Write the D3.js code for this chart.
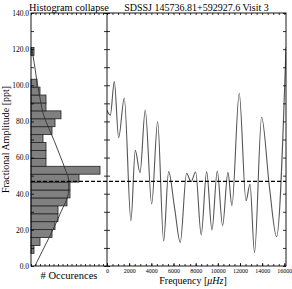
<!DOCTYPE html>
<html>
<head>
<meta charset="utf-8">
<script src="https://cdn.jsdelivr.net/npm/d3@7"></script>
<style>
  body { margin: 0; background: #fff; }
  svg text { font-family: "Liberation Serif", "Times New Roman", serif; fill: #000; }
</style>
</head>
<body>
<svg width="292" height="289"></svg>
<script>
// histogram of amplitudes (bins from the bottom up)
binStart = 7.0;
binWidth = 4.38;
binCounts = [1, 3, 7, 8, 9, 9, 12, 13, 13, 16, 23, 5, 5, 5, 4, 7, 8, 10, 5, 5, 3, 2, 0, 0, 0, 1];

// normal curve drawn over the histogram
curveAmp   = [0, 10, 20, 30, 40, 47, 54, 61, 69, 76, 84, 92, 103, 112, 121];
curveCount = [1.3, 4.3, 7.3, 10.0, 12.4, 12.6, 11.3, 9.7, 7.8, 6.0, 4.1, 3.1, 1.9, 1.1, 0.2];

// amplitude spectrum
freq = [0, 300, 660, 1050, 1560, 2160, 2550, 2980, 3450, 4030, 4570, 5110, 5560, 6100, 6610,
        7180, 7580, 8000, 8500, 8990, 9470, 9950, 10430, 10910, 11270, 11930, 12540, 12900,
        13310, 13950, 14650, 15300, 16150];
amp  = [86, 83.5, 102, 71, 93, 25, 64, 51.6, 86.3, 34.3, 80, 13.8, 52.2, 32, 13.1,
        51.3, 46.7, 52, 17.2, 52.2, 19.9, 52.6, 22.3, 51.8, 33.4, 95.6, 36.1, 45.2,
        7.4, 82.3, 44, 16.2, 121];

meanLevel = 46.8;
yTicks = d3.range(0, 141, 10);
freqTicks = d3.range(0, 16001, 2000);

var top_ = 13, bottom = 266, left = 31, mid = 107, right = 286;

var svg = d3.select("svg");

var y = d3.scaleLinear().domain([0, 140]).range([bottom, top_]);
var count = d3.scaleLinear().domain([0, (mid - left) / 3]).range([left, mid]);
var x = d3.scaleLinear().domain([0, 16150]).range([mid, right]);

svg.append("defs").append("clipPath").attr("id", "rclip")
  .append("rect").attr("x", mid).attr("y", top_).attr("width", right - mid).attr("height", bottom - top_);
svg.append("defs").append("clipPath").attr("id", "lclip")
  .append("rect").attr("x", left).attr("y", top_).attr("width", mid - left).attr("height", bottom - top_);

// histogram bars
var bins = binCounts.map((c, i) => ({lo: binStart + i * binWidth, hi: binStart + (i + 1) * binWidth, c: c}))
  .filter(b => b.c > 0);

svg.append("g").selectAll("rect")
  .data(bins)
  .enter()
  .append("rect")
  .attr("x", count(0))
  .attr("y", d => y(d.hi))
  .attr("width", d => count(d.c) - count(0))
  .attr("height", d => y(d.lo) - y(d.hi))
  .attr("fill", "#808080")
  .attr("stroke", "#222")
  .attr("stroke-width", 0.8);

// normal curve
var gauss = curveAmp.map((a, i) => [a, curveCount[i]]);
svg.append("path")
  .attr("clip-path", "url(#lclip)")
  .attr("d", d3.line().x(d => count(d[1])).y(d => y(d[0])).curve(d3.curveMonotoneY)(gauss))
  .attr("fill", "none")
  .attr("stroke", "#333")
  .attr("stroke-width", 0.9);

// spectrum line
var spec = freq.map((f, i) => [f, amp[i]]);
svg.append("path")
  .attr("clip-path", "url(#rclip)")
  .attr("d", d3.line().x(d => x(d[0])).y(d => y(d[1])).curve(d3.curveMonotoneX)(spec))
  .attr("fill", "none")
  .attr("stroke", "#555")
  .attr("stroke-width", 1.1);

// mean level
svg.append("line")
  .attr("x1", left).attr("x2", right)
  .attr("y1", y(meanLevel)).attr("y2", y(meanLevel))
  .attr("stroke", "#000")
  .attr("stroke-width", 1.2)
  .attr("stroke-dasharray", "4,2");

// axes
var fmt = d3.format(".1f");
function clean(g) {
  g.select(".domain").remove();
  g.selectAll(".tick line").attr("stroke", "#000").attr("stroke-width", 0.8);
}

svg.append("g")
  .attr("transform", "translate(" + left + ",0)")
  .call(d3.axisLeft(y).tickValues(yTicks).tickSize(-3).tickPadding(2)
    .tickFormat(d => d % 20 === 0 ? fmt(d) : ""))
  .call(clean)
  .selectAll("text").attr("font-size", "7.5px");

// ticks on both sides of the middle spine
svg.append("g")
  .attr("transform", "translate(" + mid + ",0)")
  .call(d3.axisLeft(y).tickValues(yTicks).tickSize(3).tickFormat(""))
  .call(clean);
svg.append("g")
  .attr("transform", "translate(" + mid + ",0)")
  .call(d3.axisRight(y).tickValues(yTicks).tickSize(3).tickFormat(""))
  .call(clean);
svg.append("g")
  .attr("transform", "translate(" + right + ",0)")
  .call(d3.axisLeft(y).tickValues(yTicks).tickSize(3).tickFormat(""))
  .call(clean);

// left panel bottom/top minor ticks
var countTicks = d3.range(0, 25.3, 1.5);
svg.append("g")
  .attr("transform", "translate(0," + bottom + ")")
  .call(d3.axisBottom(count).tickValues(countTicks).tickSize(-2).tickFormat(""))
  .call(clean);
svg.append("g")
  .attr("transform", "translate(0," + top_ + ")")
  .call(d3.axisTop(count).tickValues(countTicks).tickSize(-2).tickFormat(""))
  .call(clean);

// right panel frequency axis
svg.append("g")
  .attr("transform", "translate(0," + bottom + ")")
  .call(d3.axisBottom(x).tickValues(d3.range(0, 16001, 500)).tickSize(-2).tickFormat(""))
  .call(clean);
svg.append("g")
  .attr("transform", "translate(0," + bottom + ")")
  .call(d3.axisBottom(x).tickValues(freqTicks).tickSize(-3).tickPadding(2.5).tickFormat(d3.format("d")))
  .call(clean)
  .selectAll("text").attr("font-size", "6px");
svg.append("g")
  .attr("transform", "translate(0," + top_ + ")")
  .call(d3.axisTop(x).tickValues(d3.range(0, 16001, 500)).tickSize(-2).tickFormat(""))
  .call(clean);

// spines
svg.append("rect")
  .attr("x", left).attr("y", top_).attr("width", right - left).attr("height", bottom - top_)
  .attr("fill", "none").attr("stroke", "#000").attr("stroke-width", 0.9);
svg.append("line")
  .attr("x1", mid).attr("x2", mid).attr("y1", top_).attr("y2", bottom)
  .attr("stroke", "#000").attr("stroke-width", 0.9);

// titles and labels
svg.append("text").attr("x", (left + mid) / 2).attr("y", 10.5)
  .attr("text-anchor", "middle").attr("font-size", "10.3px").text("Histogram collapse");
svg.append("text").attr("x", (mid + right) / 2).attr("y", 10.5)
  .attr("text-anchor", "middle").attr("font-size", "10px").text("SDSSJ 145736.81+592927.6 Visit 3");
svg.append("text").attr("x", (left + mid) / 2).attr("y", 278.5)
  .attr("text-anchor", "middle").attr("font-size", "10.5px").text("# Occurences");

var fl = svg.append("text").attr("x", 193).attr("y", 284)
  .attr("text-anchor", "middle").attr("font-size", "10px");
fl.append("tspan").text("Frequency [");
fl.append("tspan").attr("font-style", "italic").text("μHz");
fl.append("tspan").text("]");

svg.append("text")
  .attr("transform", "translate(9," + (top_ + bottom) / 2 + ")rotate(-90)")
  .attr("text-anchor", "middle").attr("font-size", "10px")
  .text("Fractional Amplitude [ppt]");
</script>
</body>
</html>
